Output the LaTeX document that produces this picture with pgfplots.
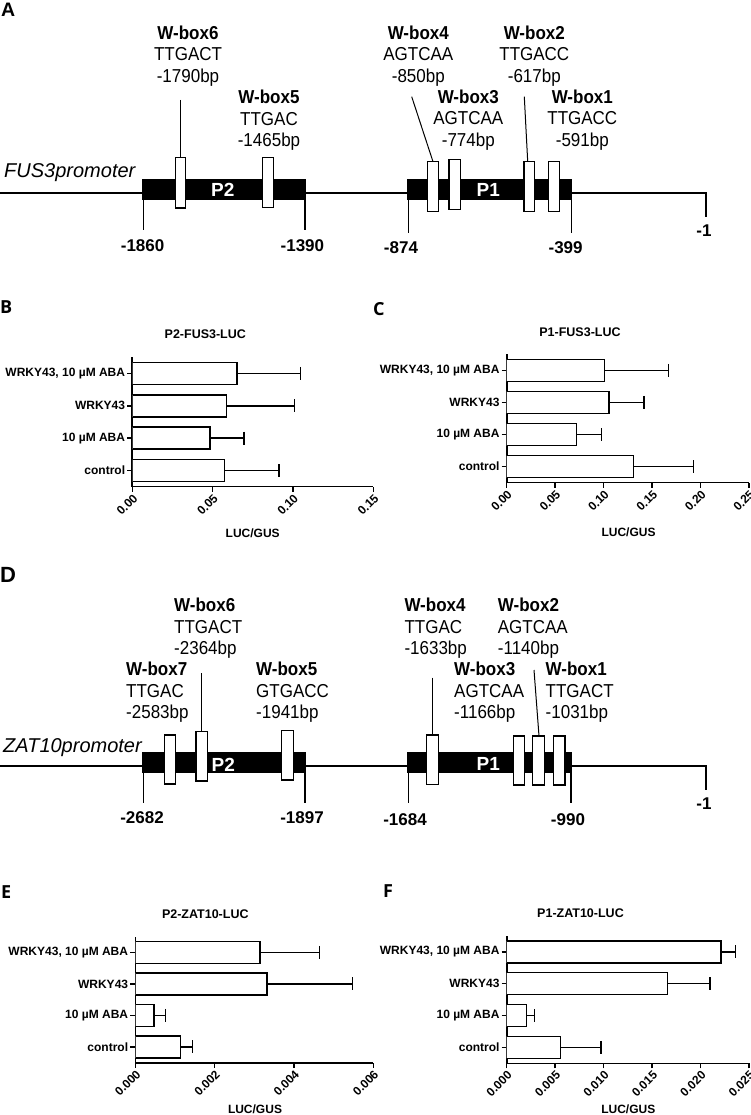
\documentclass[border=0pt]{standalone}
\usepackage{fontspec}
\setmainfont{Liberation Sans}
\newfontfamily\letterfont{Open Sans}
\usepackage{pgfplots}
\pgfplotsset{compat=1.18}

\newcommand{\wbc}[3]{\scalebox{1}[1.1]{\fontsize{17}{19.4}\selectfont\begin{tabular}{@{}c@{}}\textbf{#1}\\#2\\#3\end{tabular}}}
\newcommand{\wbl}[3]{\scalebox{1}[1.1]{\fontsize{17}{19.4}\selectfont\begin{tabular}{@{}l@{}}\textbf{#1}\\#2\\#3\end{tabular}}}

\pgfplotsset{
  lucbar/.style={
    scale only axis, xbar, bar width=22pt,
    axis lines=left, axis line style={-, line width=1.6pt},
    xmin=0, ymin=-0.5, ymax=3.5,
    ytick={0,1,2,3},
    yticklabels={control,10 µM ABA,WRKY43,{WRKY43, 10 µM ABA}},
    tick align=outside, major tick length=5pt,
    tick style={black, line width=1.4pt},
    scaled x ticks=false,
    yticklabel style={font=\bfseries\fontsize{12}{12}\selectfont, inner sep=2pt},
    xticklabel style={rotate=45, anchor=north east, font=\bfseries\fontsize{12}{12}\selectfont, inner sep=1pt},
  },
  lucplot/.style={draw=black, fill=white, line width=1.4pt,
    error bars/.cd, x dir=plus, x explicit, error mark=|,
    error bar style={line width=1.4pt, black},
    error mark options={line width=1.4pt, mark size=6.5pt, black}},
  wbox/.style={fill=white, draw=black, line width=1.2pt, mark=none},
  bbar/.style={fill=black, draw=none, mark=none},
  thin/.style={black, line width=1pt, mark=none},
  thick/.style={black, line width=2pt, mark=none},
}

\begin{document}
\begin{tikzpicture}
\path[use as bounding box] (0,0) rectangle (750pt,1115pt);

% ---------------- canvas for diagrams and texts ----------------
\begin{axis}[at={(0pt,0pt)}, anchor=south west, scale only axis,
  width=750pt, height=1115pt, xmin=0, xmax=750, ymin=0, ymax=1115,
  y dir=reverse, hide axis, clip=false]

% ===== Panel A =====
\addplot[thick] coordinates {(0,192.7) (706,192.7) (706,217)};
\addplot[bbar] coordinates {(142.3,179.3) (306,179.3) (306,200) (142.3,200)} --cycle;
\addplot[bbar] coordinates {(407.3,179.3) (572.3,179.3) (572.3,200) (407.3,200)} --cycle;
\addplot[thin, line width=1.3pt] coordinates {(143.3,200) (143.3,230)};
\addplot[thin, line width=1.3pt] coordinates {(305,200) (305,230)};
\addplot[thin, line width=1.3pt] coordinates {(408.5,200) (408.5,233)};
\addplot[thin, line width=1.3pt] coordinates {(571.5,200) (571.5,233)};
% white boxes
\addplot[wbox] coordinates {(175.7,157.3) (185.7,157.3) (185.7,208) (175.7,208)} --cycle;
\addplot[wbox] coordinates {(262.3,157.3) (273.3,157.3) (273.3,207.3) (262.3,207.3)} --cycle;
\addplot[wbox] coordinates {(427.3,161.7) (438.3,161.7) (438.3,211.7) (427.3,211.7)} --cycle;
\addplot[wbox] coordinates {(449,159.3) (460.7,159.3) (460.7,209.3) (449,209.3)} --cycle;
\addplot[wbox] coordinates {(524,161.7) (534.3,161.7) (534.3,211.7) (524,211.7)} --cycle;
\addplot[wbox] coordinates {(548.3,161.7) (559.3,161.7) (559.3,211.7) (548.3,211.7)} --cycle;
% connectors
\addplot[thin] coordinates {(180.7,100) (180.7,157.3)};
\addplot[thin] coordinates {(411.7,96.7) (433,161.7)};
\addplot[thin] coordinates {(524.3,96.7) (527.7,161.7)};
% texts
\node[anchor=base west, inner sep=0pt, font=\bfseries\fontsize{19.5}{19.5}\selectfont] at (axis cs:1,17) {A};
\node at (axis cs:188,56.5) {\wbc{W-box6}{TTGACT}{-1790bp}};
\node at (axis cs:269,121) {\wbc{W-box5}{TTGAC}{-1465bp}};
\node at (axis cs:418.3,56.5) {\wbc{W-box4}{AGTCAA}{-850bp}};
\node at (axis cs:534.3,56.5) {\wbc{W-box2}{TTGACC}{-617bp}};
\node at (axis cs:468.3,120.5) {\wbc{W-box3}{AGTCAA}{-774bp}};
\node at (axis cs:582.3,120.5) {\wbc{W-box1}{TTGACC}{-591bp}};
\node[anchor=base west, inner sep=0pt, font=\itshape\fontsize{20}{20}\selectfont] at (axis cs:4,177.5) {FUS3promoter};
\node[text=white, inner sep=0pt, font=\bfseries\fontsize{19}{19}\selectfont] at (axis cs:222.7,190) {P2};
\node[text=white, inner sep=0pt, font=\bfseries\fontsize{19}{19}\selectfont] at (axis cs:488.3,190) {P1};
\node[inner sep=0pt, font=\bfseries\fontsize{17}{17}\selectfont] at (axis cs:142.6,246) {-1860};
\node[inner sep=0pt, font=\bfseries\fontsize{17}{17}\selectfont] at (axis cs:302.4,246) {-1390};
\node[inner sep=0pt, font=\bfseries\fontsize{17}{17}\selectfont] at (axis cs:401,248) {-874};
\node[inner sep=0pt, font=\bfseries\fontsize{17}{17}\selectfont] at (axis cs:565.6,248) {-399};
\node[inner sep=0pt, font=\bfseries\fontsize{17}{17}\selectfont] at (axis cs:704,231) {-1};

% ===== Panel D =====
\addplot[thick] coordinates {(0,766) (706,766) (706,790)};
\addplot[bbar] coordinates {(142.3,751.7) (306,751.7) (306,773.3) (142.3,773.3)} --cycle;
\addplot[bbar] coordinates {(407.3,751.7) (572.3,751.7) (572.3,773.3) (407.3,773.3)} --cycle;
\addplot[thin, line width=1.3pt] coordinates {(143.3,773.3) (143.3,803)};
\addplot[thin, line width=1.3pt] coordinates {(305,773.3) (305,803)};
\addplot[thin, line width=1.3pt] coordinates {(408.3,773.3) (408.3,803)};
\addplot[thin, line width=1.3pt] coordinates {(571,773.3) (571,803)};
\addplot[wbox] coordinates {(164.3,735) (175.7,735) (175.7,784) (164.3,784)} --cycle;
\addplot[wbox] coordinates {(196,731.7) (207.7,731.7) (207.7,781) (196,781)} --cycle;
\addplot[wbox] coordinates {(281.7,730.7) (293.3,730.7) (293.3,780) (281.7,780)} --cycle;
\addplot[wbox] coordinates {(426.7,735) (438.3,735) (438.3,784.3) (426.7,784.3)} --cycle;
\addplot[wbox] coordinates {(513.3,736) (524.3,736) (524.3,785) (513.3,785)} --cycle;
\addplot[wbox] coordinates {(532.7,736) (544.3,736) (544.3,785) (532.7,785)} --cycle;
\addplot[wbox] coordinates {(553.3,736) (565,736) (565,785) (553.3,785)} --cycle;
\addplot[thin] coordinates {(201.7,673.3) (201.7,731.7)};
\addplot[thin] coordinates {(432.5,677.7) (432.5,735)};
\addplot[thin] coordinates {(534,670) (539,736)};
\node[anchor=base west, inner sep=0pt, font=\bfseries\fontsize{22}{22}\selectfont] at (axis cs:0,582) {D};
\node[anchor=west, inner sep=0pt] at (axis cs:174,629) {\wbl{W-box6}{TTGACT}{-2364bp}};
\node[anchor=west, inner sep=0pt] at (axis cs:404.3,629) {\wbl{W-box4}{TTGAC}{-1633bp}};
\node[anchor=west, inner sep=0pt] at (axis cs:497.7,629) {\wbl{W-box2}{AGTCAA}{-1140bp}};
\node[anchor=west, inner sep=0pt] at (axis cs:126,692.8) {\wbl{W-box7}{TTGAC}{-2583bp}};
\node[anchor=west, inner sep=0pt] at (axis cs:256,692.8) {\wbl{W-box5}{GTGACC}{-1941bp}};
\node[anchor=west, inner sep=0pt] at (axis cs:454,692.8) {\wbl{W-box3}{AGTCAA}{-1166bp}};
\node[anchor=west, inner sep=0pt] at (axis cs:545.5,692.8) {\wbl{W-box1}{TTGACT}{-1031bp}};
\node[anchor=base west, inner sep=0pt, font=\itshape\fontsize{20}{20}\selectfont] at (axis cs:3,752) {ZAT10promoter};
\node[text=white, inner sep=0pt, font=\bfseries\fontsize{19}{19}\selectfont] at (axis cs:223.3,765) {P2};
\node[text=white, inner sep=0pt, font=\bfseries\fontsize{19}{19}\selectfont] at (axis cs:488.3,764) {P1};
\node[inner sep=0pt, font=\bfseries\fontsize{17}{17}\selectfont] at (axis cs:142,818) {-2682};
\node[inner sep=0pt, font=\bfseries\fontsize{17}{17}\selectfont] at (axis cs:302,818) {-1897};
\node[inner sep=0pt, font=\bfseries\fontsize{17}{17}\selectfont] at (axis cs:405,820) {-1684};
\node[inner sep=0pt, font=\bfseries\fontsize{17}{17}\selectfont] at (axis cs:568,820) {-990};
\node[inner sep=0pt, font=\bfseries\fontsize{17}{17}\selectfont] at (axis cs:704,804) {-1};

% ===== bar panel texts =====
\node[anchor=base west, inner sep=0pt, font=\letterfont\bfseries\fontsize{18}{18}\selectfont] at (axis cs:0,313) {B};
\node[anchor=base west, inner sep=0pt, font=\letterfont\bfseries\fontsize{18}{18}\selectfont] at (axis cs:373,315) {C};
\node[anchor=base west, inner sep=0pt, font=\letterfont\bfseries\fontsize{18}{18}\selectfont] at (axis cs:1,898) {E};
\node[anchor=base west, inner sep=0pt, font=\letterfont\bfseries\fontsize{18}{18}\selectfont] at (axis cs:383,897) {F};
\node[font=\bfseries\fontsize{12.5}{12.5}\selectfont] at (axis cs:205.3,334.3) {P2-FUS3-LUC};
\node[font=\bfseries\fontsize{12.5}{12.5}\selectfont] at (axis cs:580,332.3) {P1-FUS3-LUC};
\node[font=\bfseries\fontsize{12.5}{12.5}\selectfont] at (axis cs:205.3,914) {P2-ZAT10-LUC};
\node[font=\bfseries\fontsize{12.5}{12.5}\selectfont] at (axis cs:580.5,913.3) {P1-ZAT10-LUC};
\node[font=\bfseries\fontsize{12}{12}\selectfont] at (axis cs:252.7,533) {LUC/GUS};
\node[font=\bfseries\fontsize{12}{12}\selectfont] at (axis cs:628.5,532) {LUC/GUS};
\node[font=\bfseries\fontsize{12}{12}\selectfont] at (axis cs:255,1109) {LUC/GUS};
\node[font=\bfseries\fontsize{12}{12}\selectfont] at (axis cs:628.3,1109) {LUC/GUS};
\end{axis}

% ---------------- B ----------------
\begin{axis}[lucbar, at={(132.3pt,628.3pt)}, anchor=south west,
  width=241pt, height=129.4pt, xmax=0.15,
  xtick={0,0.05,0.10,0.15}, xticklabels={0.00,0.05,0.10,0.15}]
\addplot[lucplot] coordinates {
 (0.0572,0) +- (0.0341,0)
 (0.0484,1) +- (0.0212,0)
 (0.0588,2) +- (0.0420,0)
 (0.0651,3) +- (0.0395,0)};
\end{axis}

% ---------------- C ----------------
\begin{axis}[lucbar, at={(506.7pt,632.3pt)}, anchor=south west,
  width=242.3pt, height=128.4pt, xmax=0.25,
  xtick={0,0.05,0.10,0.15,0.20,0.25}, xticklabels={0.00,0.05,0.10,0.15,0.20,0.25}]
\addplot[lucplot] coordinates {
 (0.1307,0) +- (0.0620,0)
 (0.0723,1) +- (0.0257,0)
 (0.1056,2) +- (0.0362,0)
 (0.1008,3) +- (0.0664,0)};
\end{axis}

% ---------------- E ----------------
\begin{axis}[lucbar, at={(135.3pt,52.3pt)}, anchor=south west,
  width=238pt, height=126pt, xmax=0.006,
  xtick={0,0.002,0.004,0.006}, xticklabels={0.000,0.002,0.004,0.006}]
\addplot[lucplot] coordinates {
 (0.001134,0) +- (0.000303,0)
 (0.00047,1) +- (0.000295,0)
 (0.003319,2) +- (0.00215,0)
 (0.003143,3) +- (0.001496,0)};
\end{axis}

% ---------------- F ----------------
\begin{axis}[lucbar, at={(506.7pt,51.7pt)}, anchor=south west,
  width=242.3pt, height=127.3pt, xmax=0.025,
  xtick={0,0.005,0.010,0.015,0.020,0.025}, xticklabels={0.000,0.005,0.010,0.015,0.020,0.025}]
\addplot[lucplot] coordinates {
 (0.00557,0) +- (0.00417,0)
 (0.002065,1) +- (0.000825,0)
 (0.01662,2) +- (0.00437,0)
 (0.02213,3) +- (0.00148,0)};
\end{axis}
\end{tikzpicture}
\end{document}
